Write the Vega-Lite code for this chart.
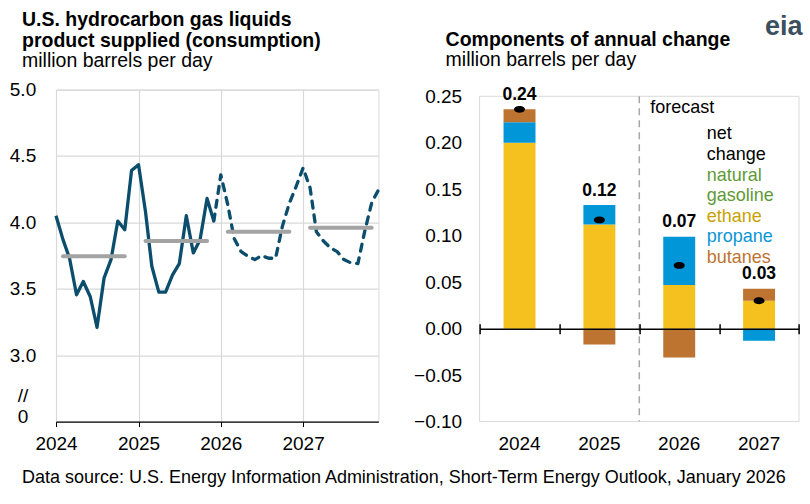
{
  "$schema": "https://vega.github.io/schema/vega-lite/v6.json",
  "background": "white",
  "padding": {"left": 8, "top": 9.6, "right": 8, "bottom": 17},
  "config": {
    "font": "Liberation Sans",
    "view": {"stroke": "#d9d9d9", "strokeWidth": 1},
    "axis": {"labelColor": "black", "labelFontSize": 19, "titleColor": "black", "gridColor": "#d9d9d9", "gridWidth": 1.2, "labelFont": "Liberation Sans", "titleFont": "Liberation Sans"},
    "title": {"color": "black", "subtitleColor": "black", "fontSize": 19.5, "subtitleFontSize": 19.5, "anchor": "start", "lineHeight": 20.5, "subtitlePadding": 1, "subtitleFont": "Liberation Sans", "font": "Liberation Sans"}
  },
  "title": {
    "text": "eia",
    "orient": "top", "anchor": "end", "frame": "bounds",
    "fontSize": 27, "fontWeight": "bold", "color": "#3b4f5e", "offset": -31, "dx": 3
  },
  "datasets": {
    "monthly": [
      {"date": "2024-01-01", "value": 4.05, "period": "history"},
      {"date": "2024-02-01", "value": 3.87, "period": "history"},
      {"date": "2024-03-01", "value": 3.73, "period": "history"},
      {"date": "2024-04-01", "value": 3.455, "period": "history"},
      {"date": "2024-05-01", "value": 3.555, "period": "history"},
      {"date": "2024-06-01", "value": 3.44, "period": "history"},
      {"date": "2024-07-01", "value": 3.21, "period": "history"},
      {"date": "2024-08-01", "value": 3.58, "period": "history"},
      {"date": "2024-09-01", "value": 3.72, "period": "history"},
      {"date": "2024-10-01", "value": 4.01, "period": "history"},
      {"date": "2024-11-01", "value": 3.945, "period": "history"},
      {"date": "2024-12-01", "value": 4.39, "period": "history"},
      {"date": "2025-01-01", "value": 4.435, "period": "history"},
      {"date": "2025-02-01", "value": 4.08, "period": "history"},
      {"date": "2025-03-01", "value": 3.67, "period": "history"},
      {"date": "2025-04-01", "value": 3.475, "period": "history"},
      {"date": "2025-05-01", "value": 3.475, "period": "history"},
      {"date": "2025-06-01", "value": 3.605, "period": "history"},
      {"date": "2025-07-01", "value": 3.69, "period": "history"},
      {"date": "2025-08-01", "value": 4.05, "period": "history"},
      {"date": "2025-09-01", "value": 3.77, "period": "history"},
      {"date": "2025-10-01", "value": 3.87, "period": "history"},
      {"date": "2025-11-01", "value": 4.18, "period": "history"},
      {"date": "2025-12-01", "value": 4.01, "period": "history"},
      {"date": "2025-12-01", "value": 4.01, "period": "forecast"},
      {"date": "2026-01-01", "value": 4.358, "period": "forecast"},
      {"date": "2026-02-01", "value": 4.133, "period": "forecast"},
      {"date": "2026-03-01", "value": 3.88, "period": "forecast"},
      {"date": "2026-04-01", "value": 3.78, "period": "forecast"},
      {"date": "2026-05-01", "value": 3.745, "period": "forecast"},
      {"date": "2026-06-01", "value": 3.72, "period": "forecast"},
      {"date": "2026-07-01", "value": 3.75, "period": "forecast"},
      {"date": "2026-08-01", "value": 3.73, "period": "forecast"},
      {"date": "2026-09-01", "value": 3.73, "period": "forecast"},
      {"date": "2026-10-01", "value": 3.97, "period": "forecast"},
      {"date": "2026-11-01", "value": 4.145, "period": "forecast"},
      {"date": "2026-12-01", "value": 4.27, "period": "forecast"},
      {"date": "2027-01-01", "value": 4.41, "period": "forecast"},
      {"date": "2027-02-01", "value": 4.26, "period": "forecast"},
      {"date": "2027-03-01", "value": 3.93, "period": "forecast"},
      {"date": "2027-04-01", "value": 3.86, "period": "forecast"},
      {"date": "2027-05-01", "value": 3.81, "period": "forecast"},
      {"date": "2027-06-01", "value": 3.78, "period": "forecast"},
      {"date": "2027-07-01", "value": 3.72, "period": "forecast"},
      {"date": "2027-08-01", "value": 3.695, "period": "forecast"},
      {"date": "2027-09-01", "value": 3.69, "period": "forecast"},
      {"date": "2027-10-01", "value": 3.93, "period": "forecast"},
      {"date": "2027-11-01", "value": 4.145, "period": "forecast"},
      {"date": "2027-12-01", "value": 4.245, "period": "forecast"}
    ],
    "annual": [
      {"year": "2024", "avg": 3.745, "start": "2024-02-01", "end": "2024-11-01"},
      {"year": "2025", "avg": 3.86, "start": "2025-02-01", "end": "2025-11-01"},
      {"year": "2026", "avg": 3.93, "start": "2026-02-01", "end": "2026-11-01"},
      {"year": "2027", "avg": 3.96, "start": "2027-02-01", "end": "2027-11-01"}
    ],
    "components": [
      {"year": "2024", "component": "natural gasoline", "ord": 0, "value": 0},
      {"year": "2024", "component": "ethane", "ord": 1, "value": 0.2},
      {"year": "2024", "component": "propane", "ord": 2, "value": 0.022},
      {"year": "2024", "component": "butanes", "ord": 3, "value": 0.014},
      {"year": "2025", "component": "natural gasoline", "ord": 0, "value": 0},
      {"year": "2025", "component": "ethane", "ord": 1, "value": 0.112},
      {"year": "2025", "component": "propane", "ord": 2, "value": 0.021},
      {"year": "2025", "component": "butanes", "ord": 3, "value": -0.017},
      {"year": "2026", "component": "natural gasoline", "ord": 0, "value": 0},
      {"year": "2026", "component": "ethane", "ord": 1, "value": 0.047},
      {"year": "2026", "component": "propane", "ord": 2, "value": 0.052},
      {"year": "2026", "component": "butanes", "ord": 3, "value": -0.031},
      {"year": "2027", "component": "natural gasoline", "ord": 0, "value": 0},
      {"year": "2027", "component": "ethane", "ord": 1, "value": 0.03},
      {"year": "2027", "component": "propane", "ord": 2, "value": -0.013},
      {"year": "2027", "component": "butanes", "ord": 3, "value": 0.013}
    ],
    "net": [
      {"year": "2024", "component": "net change", "net": 0.236, "top": 0.236},
      {"year": "2025", "component": "net change", "net": 0.117, "top": 0.133},
      {"year": "2026", "component": "net change", "net": 0.068, "top": 0.099},
      {"year": "2027", "component": "net change", "net": 0.03, "top": 0.043}
    ]
  },
  "resolve": {"scale": {"color": "independent"}, "legend": {"color": "independent"}},
  "bounds": "flush",
  "spacing": 100.6,
  "hconcat": [
    {
      "width": 322.4,
      "height": 332,
      "title": {
        "text": ["U.S. hydrocarbon gas liquids", "product supplied (consumption)"],
        "subtitle": "million barrels per day",
        "frame": "group", "dx": -34, "offset": 8.6
      },
      "layer": [
        {
          "data": {"name": "monthly"},
          "transform": [{"filter": "datum.period === 'history'"}],
          "mark": {"type": "line", "color": "#0b4d6c", "strokeWidth": 3.3, "strokeJoin": "round"},
          "encoding": {
            "x": {
              "field": "date", "type": "temporal",
              "scale": {"type": "utc", "domain": [{"year": 2024, "month": 1, "date": 1, "utc": true}, {"year": 2027, "month": 12, "date": 1, "utc": true}]},
              "axis": {"format": "%Y", "tickCount": "year", "labelFlush": false, "labelOverlap": false, "domainColor": "black", "domainWidth": 1.2, "tickColor": "black", "tickSize": 5, "labelPadding": 8, "grid": true,
                       "title": "Data source: U.S. Energy Information Administration, Short-Term Energy Outlook, January 2026",
                       "titleX": -34.5, "titleY": 61, "titleAlign": "left", "titleBaseline": "alphabetic", "titleFontSize": 18, "titleFontWeight": "normal", "titleAnchor": "start"}
            },
            "y": {
              "field": "value", "type": "quantitative",
              "scale": {"domain": [2.5, 5], "nice": false, "zero": false},
              "axis": {
                "title": null, "values": [2.537, 2.7, 3, 3.5, 4, 4.5, 5],
                "labelExpr": "datum.value < 2.6 ? '0' : datum.value < 2.9 ? '//' : format(datum.value, '.1f')",
                "ticks": false, "domain": false, "labelAlign": "center", "labelPadding": 33.5,
                "gridOpacity": {"condition": {"test": "datum.value < 2.9", "value": 0}, "value": 1}
              }
            }
          }
        },
        {
          "data": {"name": "monthly"},
          "transform": [{"filter": "datum.period === 'forecast'"}],
          "mark": {"type": "line", "color": "#0b4d6c", "strokeWidth": 3.3, "strokeDash": [7, 7], "strokeCap": "round", "strokeJoin": "round"},
          "encoding": {
            "x": {"field": "date", "type": "temporal"},
            "y": {"field": "value", "type": "quantitative"}
          }
        },
        {
          "data": {"name": "annual"},
          "mark": {"type": "rule", "color": "#a3a3a3", "strokeWidth": 4, "strokeCap": "round"},
          "encoding": {
            "x": {"field": "start", "type": "temporal"},
            "x2": {"field": "end"},
            "y": {"field": "avg", "type": "quantitative"}
          }
        }
      ]
    },
    {
      "width": 319.4,
      "height": 332,
      "view": {"stroke": null},
      "title": {
        "text": "Components of annual change",
        "subtitle": "million barrels per day",
        "frame": "group", "dx": -34, "offset": 15.3
      },
      "resolve": {"axis": {"x": "independent"}},
      "layer": [
        {
          "data": {"values": [{}]},
          "mark": {"type": "rect", "fill": null, "stroke": "#d9d9d9", "strokeWidth": 1},
          "encoding": {
            "y": {"datum": 0.25, "type": "quantitative", "scale": {"domain": [-0.1, 0.2572], "nice": false}},
            "y2": {"datum": -0.1}
          }
        },
        {
          "data": {"values": [{}]},
          "mark": {"type": "rule", "color": "#a6a6a6", "strokeWidth": 1.5, "strokeDash": [7, 5]},
          "encoding": {
            "x": {"datum": "2026", "type": "ordinal", "bandPosition": 0,
                  "axis": {"orient": "top", "title": null, "labels": false, "grid": false, "domain": false, "ticks": true, "tickBand": "extent", "tickColor": "black", "tickWidth": 1.5, "tickSize": 5, "offset": -239.05, "zindex": 1}},
            "y": {"datum": 0.25, "type": "quantitative"},
            "y2": {"datum": -0.1}
          }
        },
        {
          "data": {"name": "components"},
          "mark": {"type": "bar", "width": {"band": 0.4}},
          "encoding": {
            "x": {
              "field": "year", "type": "ordinal",
              "scale": {"domain": ["2024", "2025", "2026", "2027"], "paddingInner": 0, "paddingOuter": 0},
              "axis": {"orient": "bottom", "title": null, "labels": false, "grid": false, "domain": true, "domainColor": "black", "domainWidth": 1.5, "ticks": true, "tickBand": "extent", "tickColor": "black", "tickWidth": 1.5, "tickSize": 5, "offset": -92.94, "zindex": 1}
            },
            "y": {
              "field": "value", "type": "quantitative", "stack": "zero",
              "axis": {"title": null, "values": [-0.1, -0.05, 0, 0.05, 0.1, 0.15, 0.2, 0.25], "format": ".2f", "ticks": false, "domain": false, "labelPadding": 18}
            },
            "color": {
              "field": "component", "type": "nominal",
              "scale": {"domain": ["net change", "natural gasoline", "ethane", "propane", "butanes"], "range": ["#000000", "#5e9a36", "#f5c11e", "#0096d7", "#bd7430"]},
              "legend": {
                "orient": "none", "legendX": 170.7, "legendY": 9.2,
                "title": "forecast", "titleFontSize": 18, "titleFontWeight": "normal", "titleColor": "black", "titlePadding": 8.7,
                "labelFontSize": 18, "labelOffset": 38.5, "labelBaseline": "middle", "labelLimit": 300,
                "symbolSize": 0, "symbolOpacity": 0, "symbolStrokeWidth": 0, "rowPadding": 2.3, "padding": 0,
                "labelExpr": "datum.value === 'net change' ? ['net', 'change'] : datum.value === 'natural gasoline' ? ['natural', 'gasoline'] : datum.label",
                "encode": {"labels": {"update": {
                  "fill": {"signal": "datum.value === 'natural gasoline' ? '#5e9a36' : datum.value === 'ethane' ? '#c9a100' : datum.value === 'propane' ? '#0b96d6' : datum.value === 'butanes' ? '#bd7430' : '#000000'"},
                  "lineHeight": {"value": 20.5}
                }}}
              }
            },
            "order": {"field": "ord", "type": "quantitative"}
          }
        },
        {
          "data": {"name": "net"},
          "mark": {"type": "point", "filled": true, "opacity": 1, "shape": "M-1,0A1,0.62,0,1,1,1,0A1,0.62,0,1,1,-1,0Z", "size": 121},
          "encoding": {
            "x": {"field": "year", "type": "ordinal", "axis": null},
            "y": {"field": "net", "type": "quantitative"},
            "color": {"field": "component", "type": "nominal"}
          }
        },
        {
          "data": {"name": "net"},
          "mark": {"type": "text", "fontSize": 17.5, "fontWeight": "bold", "color": "black", "baseline": "middle", "dy": -14.5},
          "encoding": {
            "x": {
              "field": "year", "type": "ordinal",
              "axis": {"orient": "bottom", "title": null, "domain": false, "ticks": false, "labelPadding": 13, "labelAngle": 0, "grid": false}
            },
            "y": {"field": "top", "type": "quantitative"},
            "text": {"field": "net", "type": "quantitative", "format": ".2f"}
          }
        }
      ]
    }
  ]
}
